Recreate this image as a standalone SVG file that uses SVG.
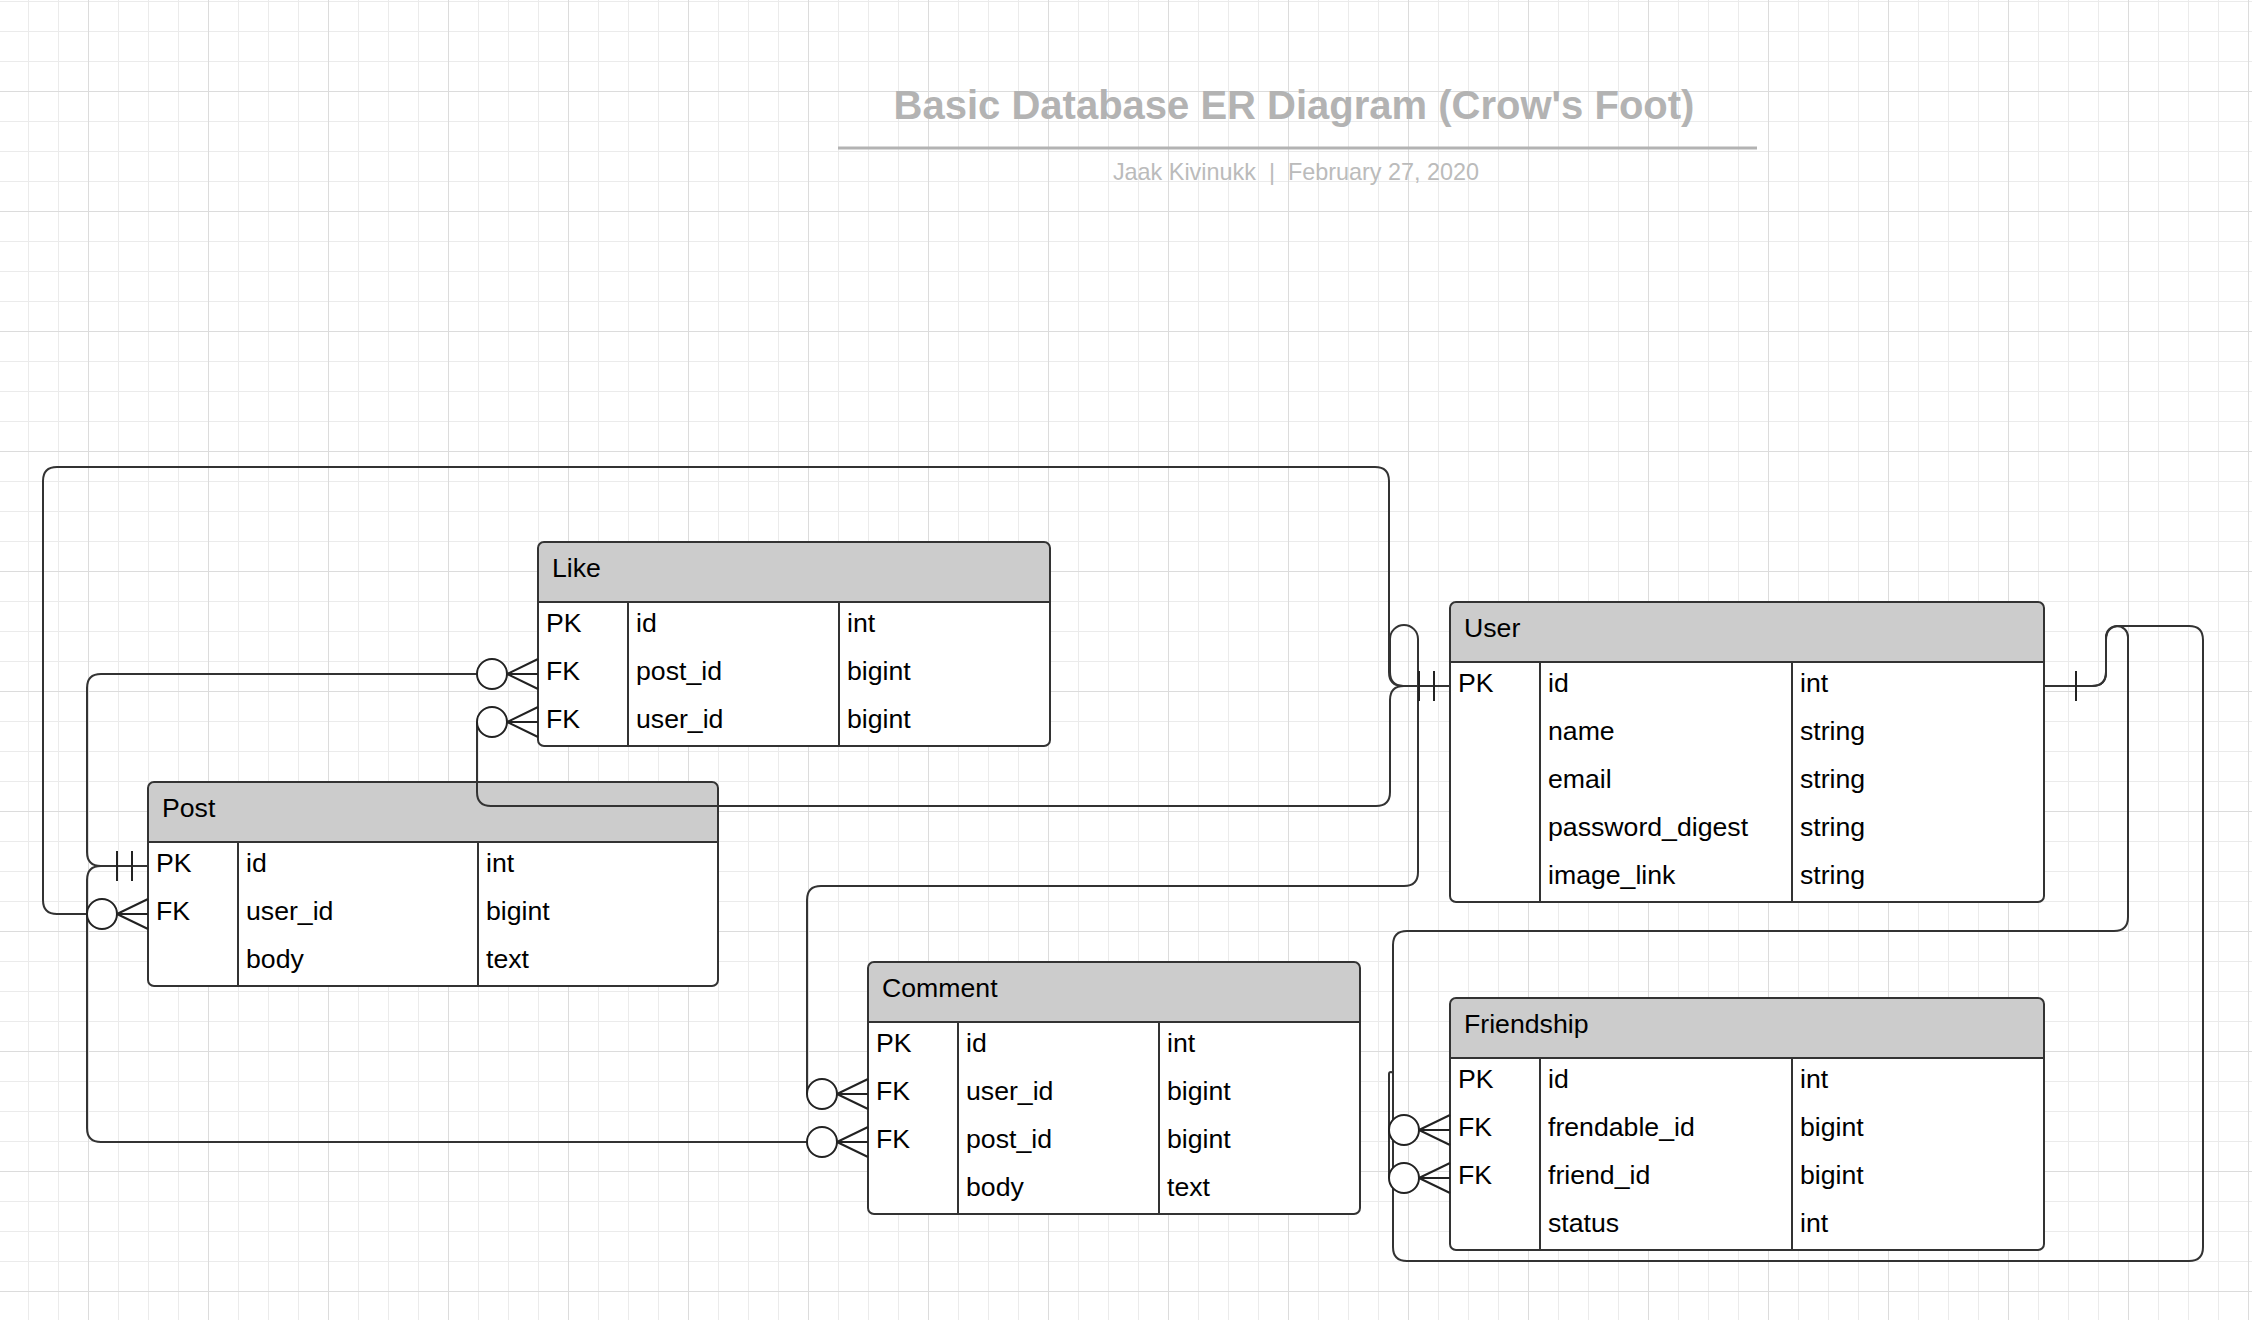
<svg xmlns="http://www.w3.org/2000/svg" xmlns:xlink="http://www.w3.org/1999/xlink" width="2252" height="1320" viewBox="0 0 2252 1320">
<style>
.bg{fill:#ffffff}
.hdr{fill:#cccccc}
.box{fill:none;stroke:#333333;stroke-width:2}
.ln{stroke:#333333;stroke-width:2}
.t{font-family:"Liberation Sans",Arial,sans-serif;font-size:26.67px;fill:#000000}
.c{fill:none;stroke:#333333;stroke-width:2}
.m{fill:none;stroke:#222222;stroke-width:2}
.mc{fill:#ffffff;stroke:#222222;stroke-width:2}
.title{font-family:"Liberation Sans",Arial,sans-serif;font-size:40px;font-weight:bold;fill:#b3b3b3}
.sub{font-family:"Liberation Sans",Arial,sans-serif;font-size:23.4px;fill:#bbbbbb;white-space:pre}
</style>
<defs>
<pattern id="grid" x="88" y="91" width="120" height="120" patternUnits="userSpaceOnUse">
<rect x="0" y="0" width="120" height="120" fill="#ffffff"/>
<rect x="30" y="0" width="1" height="120" fill="#ebebeb"/>
<rect x="60" y="0" width="1" height="120" fill="#ebebeb"/>
<rect x="90" y="0" width="1" height="120" fill="#ebebeb"/>
<rect x="0" y="30" width="120" height="1" fill="#ebebeb"/>
<rect x="0" y="60" width="120" height="1" fill="#ebebeb"/>
<rect x="0" y="90" width="120" height="1" fill="#ebebeb"/>
<rect x="0" y="0" width="1" height="120" fill="#dcdcdc"/>
<rect x="0" y="0" width="120" height="1" fill="#dcdcdc"/>
</pattern>
<g id="crow">
<path class="m" d="M-31 0 L0 -15 M-31 0 L0 0 M-31 0 L0 15"/>
<circle class="mc" cx="-46" cy="0" r="15"/>
</g>
<g id="two">
<path class="m" d="M-31 -15 V15 M-16 -15 V15"/>
</g>
</defs>
<rect x="0" y="0" width="2252" height="1320" fill="url(#grid)"/>

<g id="title">
<text class="title" x="1294" y="119" text-anchor="middle">Basic Database ER Diagram (Crow's Foot)</text>
<line x1="838" y1="148" x2="1757" y2="148" stroke="#b3b3b3" stroke-width="3"/>
<text class="sub" x="1296" y="180" text-anchor="middle" xml:space="preserve">Jaak Kivinukk  |  February 27, 2020</text>
</g>

<g id="node-like">
<rect class="bg" x="538" y="542" width="512" height="204" rx="6"/>
<path class="hdr" d="M538 602 V548 Q538 542 544 542 H1044 Q1050 542 1050 548 V602 Z"/>
<rect class="box" x="538" y="542" width="512" height="204" rx="6"/>
<path class="ln" d="M538 602 H1050 M628 602 V746 M839 602 V746"/>
<text class="t" x="552" y="577">Like</text>
<text class="t" x="546" y="632">PK</text><text class="t" x="636" y="632">id</text><text class="t" x="847" y="632">int</text>
<text class="t" x="546" y="680">FK</text><text class="t" x="636" y="680">post_id</text><text class="t" x="847" y="680">bigint</text>
<text class="t" x="546" y="728">FK</text><text class="t" x="636" y="728">user_id</text><text class="t" x="847" y="728">bigint</text>
</g>

<g id="node-post">
<rect class="bg" x="148" y="782" width="570" height="204" rx="6"/>
<path class="hdr" d="M148 842 V788 Q148 782 154 782 H712 Q718 782 718 788 V842 Z"/>
<rect class="box" x="148" y="782" width="570" height="204" rx="6"/>
<path class="ln" d="M148 842 H718 M238 842 V986 M478 842 V986"/>
<text class="t" x="162" y="817">Post</text>
<text class="t" x="156" y="872">PK</text><text class="t" x="246" y="872">id</text><text class="t" x="486" y="872">int</text>
<text class="t" x="156" y="920">FK</text><text class="t" x="246" y="920">user_id</text><text class="t" x="486" y="920">bigint</text>
<text class="t" x="246" y="968">body</text><text class="t" x="486" y="968">text</text>
</g>

<g id="node-comment">
<rect class="bg" x="868" y="962" width="492" height="252" rx="6"/>
<path class="hdr" d="M868 1022 V968 Q868 962 874 962 H1354 Q1360 962 1360 968 V1022 Z"/>
<rect class="box" x="868" y="962" width="492" height="252" rx="6"/>
<path class="ln" d="M868 1022 H1360 M958 1022 V1214 M1159 1022 V1214"/>
<text class="t" x="882" y="997">Comment</text>
<text class="t" x="876" y="1052">PK</text><text class="t" x="966" y="1052">id</text><text class="t" x="1167" y="1052">int</text>
<text class="t" x="876" y="1100">FK</text><text class="t" x="966" y="1100">user_id</text><text class="t" x="1167" y="1100">bigint</text>
<text class="t" x="876" y="1148">FK</text><text class="t" x="966" y="1148">post_id</text><text class="t" x="1167" y="1148">bigint</text>
<text class="t" x="966" y="1196">body</text><text class="t" x="1167" y="1196">text</text>
</g>

<g id="node-user">
<rect class="bg" x="1450" y="602" width="594" height="300" rx="6"/>
<path class="hdr" d="M1450 662 V608 Q1450 602 1456 602 H2038 Q2044 602 2044 608 V662 Z"/>
<rect class="box" x="1450" y="602" width="594" height="300" rx="6"/>
<path class="ln" d="M1450 662 H2044 M1540 662 V902 M1792 662 V902"/>
<text class="t" x="1464" y="637">User</text>
<text class="t" x="1458" y="692">PK</text><text class="t" x="1548" y="692">id</text><text class="t" x="1800" y="692">int</text>
<text class="t" x="1548" y="740">name</text><text class="t" x="1800" y="740">string</text>
<text class="t" x="1548" y="788">email</text><text class="t" x="1800" y="788">string</text>
<text class="t" x="1548" y="836">password_digest</text><text class="t" x="1800" y="836">string</text>
<text class="t" x="1548" y="884">image_link</text><text class="t" x="1800" y="884">string</text>
</g>

<g id="node-friendship">
<rect class="bg" x="1450" y="998" width="594" height="252" rx="6"/>
<path class="hdr" d="M1450 1058 V1004 Q1450 998 1456 998 H2038 Q2044 998 2044 1004 V1058 Z"/>
<rect class="box" x="1450" y="998" width="594" height="252" rx="6"/>
<path class="ln" d="M1450 1058 H2044 M1540 1058 V1250 M1792 1058 V1250"/>
<text class="t" x="1464" y="1033">Friendship</text>
<text class="t" x="1458" y="1088">PK</text><text class="t" x="1548" y="1088">id</text><text class="t" x="1800" y="1088">int</text>
<text class="t" x="1458" y="1136">FK</text><text class="t" x="1548" y="1136">frendable_id</text><text class="t" x="1800" y="1136">bigint</text>
<text class="t" x="1458" y="1184">FK</text><text class="t" x="1548" y="1184">friend_id</text><text class="t" x="1800" y="1184">bigint</text>
<text class="t" x="1548" y="1232">status</text><text class="t" x="1800" y="1232">int</text>
</g>

<g id="connectors">
<path class="c" d="M87 914 L57 914 Q43 914 43 900 L43 481 Q43 467 57 467 L1375 467 Q1389 467 1389 481 L1389 672 Q1389 686 1403 686 L1450 686"/>
<path class="c" d="M477 722 L477 792 Q477 806 491 806 L1376 806 Q1390 806 1390 792 L1390 700 Q1390 686 1404 686 L1450 686"/>
<path class="c" d="M807 1094 L807 900 Q807 886 821 886 L1404 886 Q1418 886 1418 872 L1418 639 A14 14 0 0 0 1390 639 L1390 672 Q1390 686 1404 686 L1450 686"/>
<path class="c" d="M477 674 L101 674 Q87 674 87 688 L87 852 Q87 866 101 866 L148 866"/>
<path class="c" d="M807 1142 L101 1142 Q87 1142 87 1128 L87 880 Q87 866 101 866 L148 866"/>
<path class="c" d="M2044 686 L2092 686 Q2106 686 2106 672 L2106 637 A11 11 0 0 1 2128 637 L2128 917 Q2128 931 2114 931 L1407 931 Q1393 931 1393 945 L1393 1130"/>
<path class="c" d="M2044 686 L2092 686 Q2106 686 2106 672 L2106 640 Q2106 626 2120 626 L2189 626 Q2203 626 2203 640 L2203 1247 Q2203 1261 2189 1261 L1407 1261 Q1393 1261 1393 1247 L1393 1074 A2 2 0 0 0 1389 1074 L1389 1178"/>
<use xlink:href="#two" x="148" y="866"/>
<use xlink:href="#two" x="1450" y="686"/>
<path class="m" d="M2076 671 V701"/>
<use xlink:href="#crow" x="538" y="674"/>
<use xlink:href="#crow" x="538" y="722"/>
<use xlink:href="#crow" x="148" y="914"/>
<use xlink:href="#crow" x="868" y="1094"/>
<use xlink:href="#crow" x="868" y="1142"/>
<use xlink:href="#crow" x="1450" y="1130"/>
<use xlink:href="#crow" x="1450" y="1178"/>
</g>
</svg>
